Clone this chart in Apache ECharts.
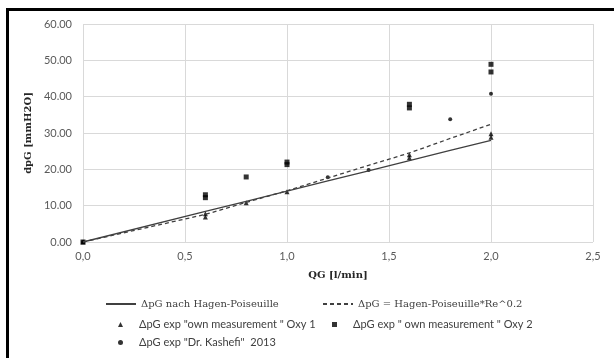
<!DOCTYPE html>
<html><head><meta charset="utf-8">
<script src="https://cdn.jsdelivr.net/npm/echarts@6/dist/echarts.min.js"></script>
<style>html,body{margin:0;padding:0;background:#fff}#c{width:614px;height:358px}</style>
</head><body><div id="c"></div>
<script>
const xTicks = ['0,0','0,5','1,0','1,5','2,0','2,5'];
const yTicks = ['0.00','10.00','20.00','30.00','40.00','50.00','60.00'];
const xLine = [0, 0.6, 0.8, 1.0, 1.2, 1.4, 1.6, 1.8, 2.0];
const hagen = [0, 8.4, 11.2, 14.0, 16.8, 19.6, 22.4, 25.2, 28.0];
const hagenRe = [0, 7.6, 10.9, 14.1, 17.6, 21.1, 24.5, 28.5, 32.4];
const oxy1X = [0, 0.6, 0.6, 0.8, 1.0, 1.6, 1.6, 2.0, 2.0];
const oxy1Y = [0, 6.9, 7.8, 10.8, 13.8, 23.2, 24.0, 28.8, 29.8];
const oxy2X = [0, 0.6, 0.6, 0.8, 1.0, 1.0, 1.6, 1.6, 2.0, 2.0];
const oxy2Y = [0, 12.2, 13.0, 17.9, 21.3, 22.0, 36.9, 37.9, 46.8, 48.9];
const kasX = [0, 1.2, 1.4, 1.8, 2.0];
const kasY = [0, 17.8, 19.8, 33.8, 40.8];
const names = ['ΔpG nach Hagen-Poiseuille','ΔpG = Hagen-Poiseuille*Re^0.2','ΔpG exp "own measurement " Oxy 1','ΔpG exp " own measurement " Oxy 2','ΔpG exp "Dr. Kashefi"  2013'];

const zip = (a,b) => a.map((v,i)=>[v,b[i]]);
const chart = echarts.init(document.getElementById('c'));
const tickFont = {color:'#595959', fontSize:11, fontFamily:'Lato'};
function lineLeg(name, left, top){
  return {data:[name], left:left, top:top, itemWidth:30, itemHeight:10, padding:0, selectedMode:false,
    itemStyle:{opacity:0},
    textStyle:{color:'#404040', fontSize:10, fontFamily:'DejaVu Serif'}};
}
function symLeg(name, icon, left, top){
  return {data:[{name:name, icon:icon}], left:left, top:top, itemWidth:5, itemHeight:5, padding:0, selectedMode:false,
    textStyle:{color:'#404040', fontSize:11, fontFamily:'Lato', padding:[0,0,0,11]}};
}
chart.setOption({
  animation:false,
  grid:{left:83, right:21, top:24, bottom:116},
  xAxis:{type:'value', min:0, max:2.5, interval:0.5,
    name:'QG [l/min]', nameLocation:'middle', nameGap:28,
    nameTextStyle:{fontFamily:'DejaVu Serif', fontWeight:'bold', fontSize:10, color:'#262626'},
    axisLine:{show:false}, axisTick:{show:false},
    splitLine:{lineStyle:{color:'#d9d9d9'}},
    axisLabel:Object.assign({margin:9, formatter:(v)=>xTicks[Math.round(v/0.5)]}, tickFont)},
  yAxis:{type:'value', min:0, max:60, interval:10,
    name:'dpG [mmH2O]', nameLocation:'middle', nameGap:43, nameRotate:90,
    nameTextStyle:{fontFamily:'DejaVu Serif', fontWeight:'bold', fontSize:10, color:'#262626'},
    axisLine:{show:false}, axisTick:{show:false},
    splitLine:{lineStyle:{color:'#d9d9d9'}},
    axisLabel:Object.assign({margin:11, formatter:(v)=>yTicks[Math.round(v/10)]}, tickFont)},
  legend:[
    lineLeg(names[0], 105, 299),
    lineLeg(names[1], 322, 299),
    symLeg(names[2], 'triangle', 118, 319),
    symLeg(names[3], 'rect', 332, 319),
    symLeg(names[4], 'circle', 118, 337)
  ],
  graphic:[
    {type:'rect', shape:{x:6, y:8, width:3, height:350}, style:{fill:'#000'}},
    {type:'rect', shape:{x:6, y:8, width:608, height:3}, style:{fill:'#000'}}
  ],
  series:[
    {name:names[0], type:'line', data:zip(xLine,hagen), showSymbol:false, symbol:'none',
      lineStyle:{color:'#404040', width:1.3}, itemStyle:{color:'#404040'}},
    {name:names[1], type:'line', data:zip(xLine,hagenRe), showSymbol:false, symbol:'none',
      lineStyle:{color:'#404040', width:1.3, type:[4,3]}, itemStyle:{color:'#404040'}},
    {name:names[2], type:'scatter', data:zip(oxy1X,oxy1Y), symbol:'triangle', symbolSize:5, itemStyle:{color:'#000'}},
    {name:names[3], type:'scatter', data:zip(oxy2X,oxy2Y), symbol:'rect', symbolSize:5, itemStyle:{color:'#000'}},
    {name:names[4], type:'scatter', data:zip(kasX,kasY), symbol:'circle', symbolSize:4, itemStyle:{color:'#000'}}
  ]
});
</script></body></html>
